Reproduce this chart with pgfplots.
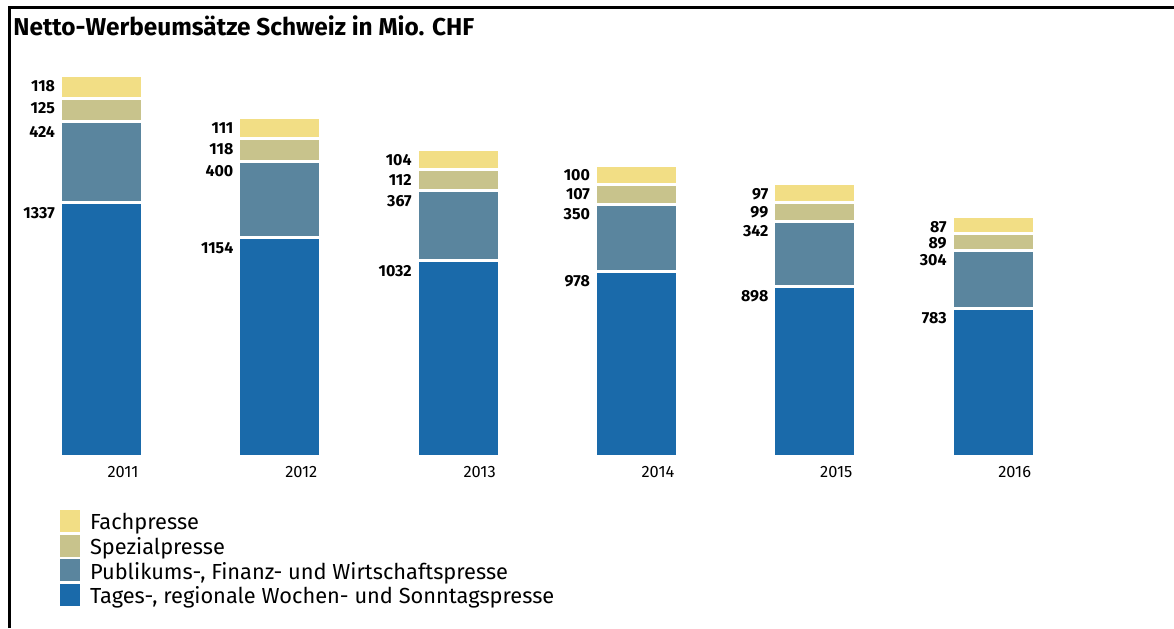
\documentclass[border=0pt]{standalone}
\usepackage{pgfplots}
\pgfplotsset{compat=1.18}
\usepackage{fontspec}
\setmainfont{Fira Sans}
\definecolor{cFach}{HTML}{F2DE85}
\definecolor{cSpez}{HTML}{C8C38C}
\definecolor{cPubl}{HTML}{5A859E}
\definecolor{cTag}{HTML}{1A6AAA}
\begin{document}
\begin{tikzpicture}
\useasboundingbox (0,0) rectangle (587pt,-314pt);
\fill[white] (0,0) rectangle (587pt,-314pt);
\draw[line width=1.5pt] (4.5pt,-314pt) -- (4.5pt,-3.5pt) -- (587pt,-3.5pt);
\node[anchor=base west, inner sep=0pt, font=\bfseries\fontsize{12.2}{14}\selectfont] at (6.5pt,-17.5pt) {Netto-Werbeumsätze Schweiz in Mio. CHF};
\begin{axis}[
  at={(6.15pt,-228pt)}, anchor=south west,
  scale only axis, width=535pt, height=192pt,
  xmin=-0.5, xmax=5.5, ymin=8, ymax=2023,
  ybar stacked, bar width=0.46,
  axis line style={draw=none}, major tick length=0pt,
  ytick=\empty, xtick={0,...,5}, xticklabels={2011,2012,2013,2014,2015,2016},
  xticklabel style={anchor=center, xshift=10.75pt, yshift=-8pt, font=\fontsize{8.2}{9}\selectfont},
  /pgf/number format/.cd, 1000 sep={}, assume math mode=true, /pgfplots/.cd,
  visualization depends on=rawy \as \rawy,
  nodes near coords,
  every node near coord/.append style={anchor=north east, inner sep=0pt, draw=none, xshift=-22.5pt, yshift={0.04765pt*\rawy-1.5pt}, font=\bfseries\fontsize{8}{9}\selectfont, text=black},
  legend image code/.code={\path[#1,draw=none] (0pt,-4.15pt) rectangle (10pt,6.85pt);},
  legend style={at={(0.0446,-0.1406)}, anchor=north west, draw=none, fill=none, inner sep=0pt, outer sep=0pt, row sep=0pt, font=\fontsize{10.9}{12}\selectfont, nodes={inner sep=0pt, text height=8.5pt, text depth=2.5pt}, /tikz/every odd column/.append style={column sep=5pt}},
  legend cell align=left,
  reverse legend,
]
\addplot[fill=cTag, draw=white, line width=1.5pt] coordinates {(0,1337) (1,1154) (2,1032) (3,978) (4,898) (5,783)};
\addplot[fill=cPubl, draw=white, line width=1.5pt] coordinates {(0,424) (1,400) (2,367) (3,350) (4,342) (5,304)};
\addplot[fill=cSpez, draw=white, line width=1.5pt] coordinates {(0,125) (1,118) (2,112) (3,107) (4,99) (5,89)};
\addplot[fill=cFach, draw=white, line width=1.5pt] coordinates {(0,118) (1,111) (2,104) (3,100) (4,97) (5,87)};
\legend{Tages-{,} regionale Wochen- und Sonntagspresse, Publikums-{,} Finanz- und Wirtschaftspresse, Spezialpresse, Fachpresse}
\end{axis}
\end{tikzpicture}
\end{document}
